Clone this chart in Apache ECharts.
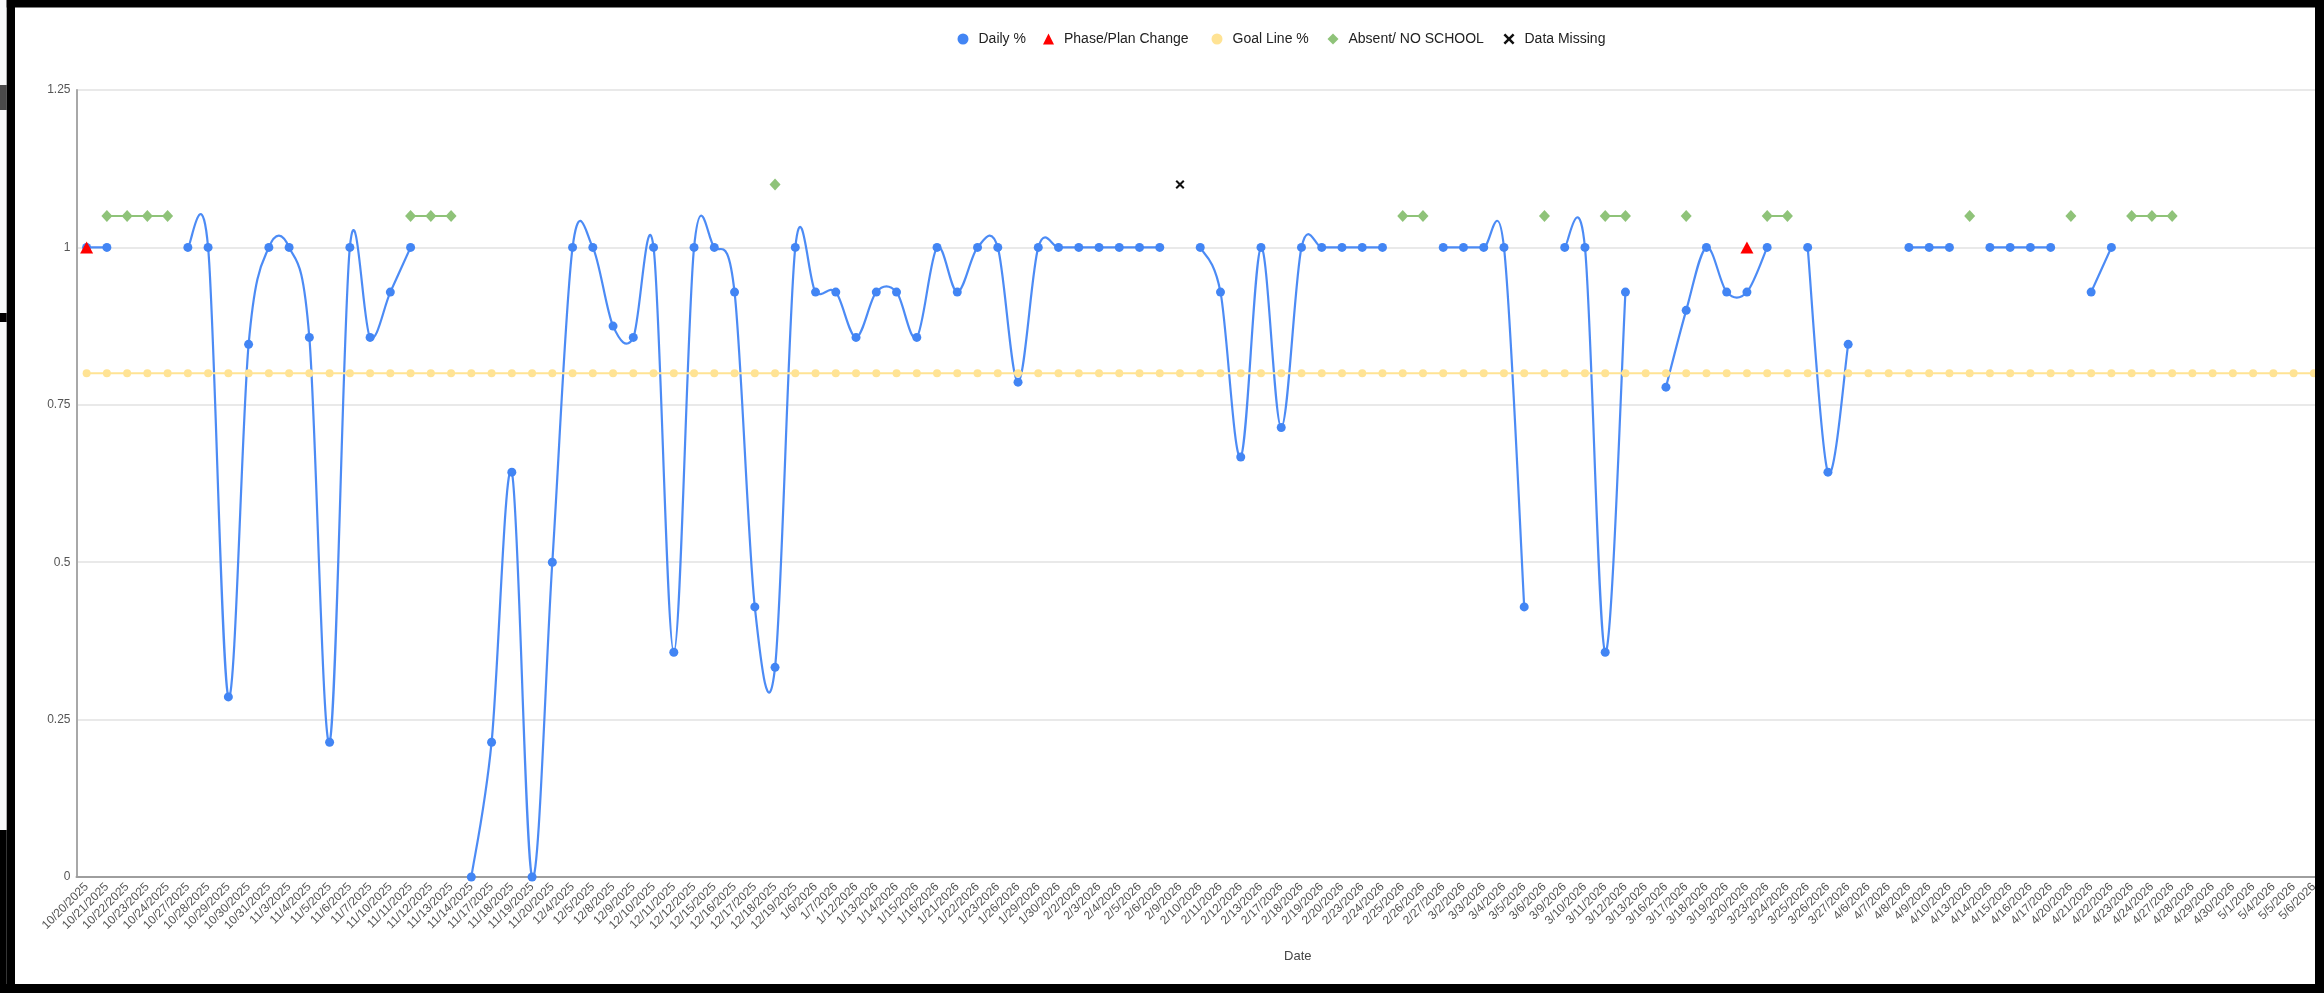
<!DOCTYPE html>
<html>
<head>
<meta charset="utf-8">
<script src="https://cdn.jsdelivr.net/npm/echarts@6/dist/echarts.min.js"></script>
<style>
  html, body { margin: 0; padding: 0; background: #ffffff; }
  #chart { width: 2324px; height: 993px; }
</style>
</head>
<body>
<div id="chart"></div>
<script>
const categories = [
  '10/20/2025','10/21/2025','10/22/2025','10/23/2025','10/24/2025',
  '10/27/2025','10/28/2025','10/29/2025','10/30/2025','10/31/2025',
  '11/3/2025','11/4/2025','11/5/2025','11/6/2025','11/7/2025',
  '11/10/2025','11/11/2025','11/12/2025','11/13/2025','11/14/2025',
  '11/17/2025','11/18/2025','11/19/2025','11/20/2025',
  '12/4/2025','12/5/2025',
  '12/8/2025','12/9/2025','12/10/2025','12/11/2025','12/12/2025',
  '12/15/2025','12/16/2025','12/17/2025','12/18/2025','12/19/2025',
  '1/6/2026','1/7/2026',
  '1/12/2026','1/13/2026','1/14/2026','1/15/2026','1/16/2026',
  '1/21/2026','1/22/2026','1/23/2026','1/26/2026','1/29/2026','1/30/2026',
  '2/2/2026','2/3/2026','2/4/2026','2/5/2026','2/6/2026',
  '2/9/2026','2/10/2026','2/11/2026','2/12/2026','2/13/2026',
  '2/17/2026','2/18/2026','2/19/2026','2/20/2026',
  '2/23/2026','2/24/2026','2/25/2026','2/26/2026','2/27/2026',
  '3/2/2026','3/3/2026','3/4/2026','3/5/2026','3/6/2026',
  '3/9/2026','3/10/2026','3/11/2026','3/12/2026','3/13/2026',
  '3/16/2026','3/17/2026','3/18/2026','3/19/2026','3/20/2026',
  '3/23/2026','3/24/2026','3/25/2026','3/26/2026','3/27/2026',
  '4/6/2026','4/7/2026','4/8/2026','4/9/2026','4/10/2026',
  '4/13/2026','4/14/2026','4/15/2026','4/16/2026','4/17/2026',
  '4/20/2026','4/21/2026','4/22/2026','4/23/2026','4/24/2026',
  '4/27/2026','4/28/2026','4/29/2026','4/30/2026','5/1/2026',
  '5/4/2026','5/5/2026','5/6/2026'
];

const dailyPct = [
  1, 1, null, null, null,
  1, 1, 0.286, 0.846, 1,
  1, 0.857, 0.214, 1, 0.857,
  0.929, 1, null, null, 0,
  0.214, 0.643, 0, 0.5,
  1, 1,
  0.875, 0.857, 1, 0.357, 1,
  1, 0.929, 0.429, 0.333, 1,
  0.929, 0.929,
  0.857, 0.929, 0.929, 0.857, 1,
  0.929, 1, 1, 0.786, 1, 1,
  1, 1, 1, 1, 1,
  null, 1, 0.929, 0.667, 1,
  0.714, 1, 1, 1,
  1, 1, null, null, 1,
  1, 1, 1, 0.429, null,
  1, 1, 0.357, 0.929, null,
  0.778, 0.9, 1, 0.929, 0.929,
  1, null, 1, 0.643, 0.846,
  null, null, 1, 1, 1,
  null, 1, 1, 1, 1,
  null, 0.929, 1, null, null,
  null, null, null, null, null,
  null, null, null
];

const goalLine = [
  0.8,0.8,0.8,0.8,0.8, 0.8,0.8,0.8,0.8,0.8, 0.8,0.8,0.8,0.8,0.8, 0.8,0.8,0.8,0.8,0.8,
  0.8,0.8,0.8,0.8, 0.8,0.8, 0.8,0.8,0.8,0.8,0.8, 0.8,0.8,0.8,0.8,0.8, 0.8,0.8,
  0.8,0.8,0.8,0.8,0.8, 0.8,0.8,0.8,0.8,0.8,0.8, 0.8,0.8,0.8,0.8,0.8,
  0.8,0.8,0.8,0.8,0.8, 0.8,0.8,0.8,0.8, 0.8,0.8,0.8,0.8,0.8,
  0.8,0.8,0.8,0.8,0.8, 0.8,0.8,0.8,0.8,0.8, 0.8,0.8,0.8,0.8,0.8,
  0.8,0.8,0.8,0.8,0.8, 0.8,0.8,0.8,0.8,0.8, 0.8,0.8,0.8,0.8,0.8,
  0.8,0.8,0.8,0.8,0.8, 0.8,0.8,0.8,0.8,0.8, 0.8,0.8,0.8
];

const phaseDates = ['10/20/2025', '3/20/2026'];
const phaseValues = [1, 1];

const absentDates = [
  '10/21/2025','10/22/2025','10/23/2025','10/24/2025',
  '11/11/2025','11/12/2025','11/13/2025',
  '12/18/2025',
  '2/25/2026','2/26/2026','3/6/2026','3/11/2026','3/12/2026','3/17/2026',
  '3/23/2026','3/24/2026','4/13/2026','4/20/2026',
  '4/23/2026','4/24/2026','4/27/2026'
];
const absentValues = [
  1.05, 1.05, 1.05, 1.05,
  1.05, 1.05, 1.05,
  1.10,
  1.05, 1.05, 1.05, 1.05, 1.05, 1.05,
  1.05, 1.05, 1.05, 1.05,
  1.05, 1.05, 1.05
];

const missingDates = ['2/9/2026'];
const missingValues = [1.10];

const yTicks = { min: 0, max: 1.25, interval: 0.25 };

function spread(dates, values) {
  const out = categories.map(() => null);
  dates.forEach((d, k) => { out[categories.indexOf(d)] = values[k]; });
  return out;
}

const FONT = '"Liberation Sans", Arial, sans-serif';
const xSymbol = 'path://M0,1.6 L1.6,0 L5,3.4 L8.4,0 L10,1.6 L6.6,5 L10,8.4 L8.4,10 L5,6.6 L1.6,10 L0,8.4 L3.4,5 Z';
const BLUE = '#4285F4';

// Smooth (Catmull-Rom) curve through the Daily % points, positioned by the axes via api.coord
function renderDailyCurve(params, api) {
  const runs = [];
  let cur = [];
  dailyPct.forEach((v, i) => {
    if (v === null || v === undefined) {
      if (cur.length) runs.push(cur);
      cur = [];
    } else {
      cur.push(api.coord([i, v]));
    }
  });
  if (cur.length) runs.push(cur);
  let d = '';
  runs.forEach(p => {
    if (p.length < 2) return;
    d += 'M' + p[0][0].toFixed(2) + ' ' + p[0][1].toFixed(2);
    for (let j = 0; j < p.length - 1; j++) {
      const p0 = j > 0 ? p[j - 1] : p[j];
      const p1 = p[j];
      const p2 = p[j + 1];
      const p3 = j + 2 < p.length ? p[j + 2] : p[j + 1];
      const c1x = p1[0] + (p2[0] - p0[0]) / 6;
      const c1y = p1[1] + (p2[1] - p0[1]) / 6;
      const c2x = p2[0] - (p3[0] - p1[0]) / 6;
      const c2y = p2[1] - (p3[1] - p1[1]) / 6;
      d += ' C' + c1x.toFixed(2) + ' ' + c1y.toFixed(2) + ' ' +
           c2x.toFixed(2) + ' ' + c2y.toFixed(2) + ' ' +
           p2[0].toFixed(2) + ' ' + p2[1].toFixed(2);
    }
  });
  return {
    type: 'path',
    shape: { pathData: d },
    style: { fill: 'none', stroke: BLUE, lineWidth: 2.2, opacity: 0.95 },
    silent: true
  };
}

const chart = echarts.init(document.getElementById('chart'), null, { renderer: 'canvas' });

function legendAt(name, icon, left) {
  return {
    data: [{ name: name, icon: icon }],
    left: left, top: 32, padding: 0,
    itemWidth: 11, itemHeight: 11,
    selectedMode: false,
    textStyle: { fontFamily: FONT, fontSize: 14, color: '#222', padding: [0, 0, 0, 5] }
  };
}

const option = {
  animation: false,
  backgroundColor: '#ffffff',
  legend: [
    legendAt('Daily %', 'circle', 957.5),
    legendAt('Phase/Plan Change', 'triangle', 1043),
    legendAt('Goal Line %', 'circle', 1211.5),
    legendAt('Absent/ NO SCHOOL', 'diamond', 1327.5),
    legendAt('Data Missing', xSymbol, 1503.5)
  ],
  grid: { left: 76.5, right: -14.7, top: 90, bottom: 116, containLabel: false },
  xAxis: {
    type: 'category',
    data: categories,
    boundaryGap: true,
    name: 'Date',
    nameLocation: 'middle',
    nameGap: 73,
    nameTextStyle: { fontFamily: FONT, fontSize: 13, color: '#444', padding: [0, 0, 0, 195] },
    axisLine: { show: true, lineStyle: { color: '#9e9e9e', width: 2 } },
    axisTick: { show: false },
    axisLabel: { interval: 0, rotate: 45, fontFamily: FONT, fontSize: 12, color: '#555', margin: 8 },
    splitLine: { show: false }
  },
  yAxis: {
    type: 'value',
    min: yTicks.min, max: yTicks.max, interval: yTicks.interval,
    axisLine: { show: true, lineStyle: { color: '#a8a8a8', width: 2 } },
    axisTick: { show: false },
    axisLabel: { fontFamily: FONT, fontSize: 12, color: '#555', margin: 6 },
    splitLine: { show: true, lineStyle: { color: '#e2e2e2', width: 1.5 } }
  },
  series: [
    {
      name: 'dailyCurve', type: 'custom', coordinateSystem: 'cartesian2d',
      data: [[0, 0]], renderItem: renderDailyCurve, silent: true, clip: false, z: 2
    },
    {
      name: 'Daily %', type: 'line', data: dailyPct,
      connectNulls: false, showAllSymbol: true,
      symbol: 'circle', symbolSize: 9,
      itemStyle: { color: BLUE },
      lineStyle: { width: 0, opacity: 0 }
    },
    {
      name: 'Phase/Plan Change', type: 'line', data: spread(phaseDates, phaseValues),
      showAllSymbol: true, symbol: 'triangle', symbolSize: [13, 12],
      itemStyle: { color: '#FF0000' },
      lineStyle: { width: 0, opacity: 0 }
    },
    {
      name: 'Goal Line %', type: 'line', data: goalLine,
      showAllSymbol: true, symbol: 'circle', symbolSize: 8,
      itemStyle: { color: '#FFE394' },
      lineStyle: { color: '#FFE394', width: 2 }
    },
    {
      name: 'Absent/ NO SCHOOL', type: 'line', data: spread(absentDates, absentValues),
      connectNulls: false, showAllSymbol: true, symbol: 'diamond', symbolSize: [11, 12],
      itemStyle: { color: '#8FC379' },
      lineStyle: { color: '#8FC379', width: 2 }
    },
    {
      name: 'Data Missing', type: 'line', data: spread(missingDates, missingValues),
      showAllSymbol: true, symbol: xSymbol, symbolSize: 9,
      itemStyle: { color: '#111111' },
      lineStyle: { width: 0, opacity: 0 }
    }
  ],
  graphic: [
    { type: 'rect', z: 100, shape: { x: 0, y: 0, width: 6.7, height: 993 }, style: { fill: '#f8f9fa' } },
    { type: 'rect', z: 101, shape: { x: 0, y: 85, width: 6.7, height: 25 }, style: { fill: '#4a4a4a' } },
    { type: 'rect', z: 101, shape: { x: 0, y: 313, width: 6.7, height: 9 }, style: { fill: '#000000' } },
    { type: 'rect', z: 101, shape: { x: 0, y: 830, width: 6.7, height: 163 }, style: { fill: '#000000' } },
    { type: 'rect', z: 102, shape: { x: 6.7, y: 0, width: 2318, height: 7.5 }, style: { fill: '#000000' } },
    { type: 'rect', z: 102, shape: { x: 6.7, y: 0, width: 8.3, height: 993 }, style: { fill: '#000000' } },
    { type: 'rect', z: 102, shape: { x: 2315, y: 0, width: 9, height: 993 }, style: { fill: '#000000' } },
    { type: 'rect', z: 102, shape: { x: 0, y: 984, width: 2324, height: 9 }, style: { fill: '#000000' } }
  ]
};

chart.setOption(option);
</script>
</body>
</html>
